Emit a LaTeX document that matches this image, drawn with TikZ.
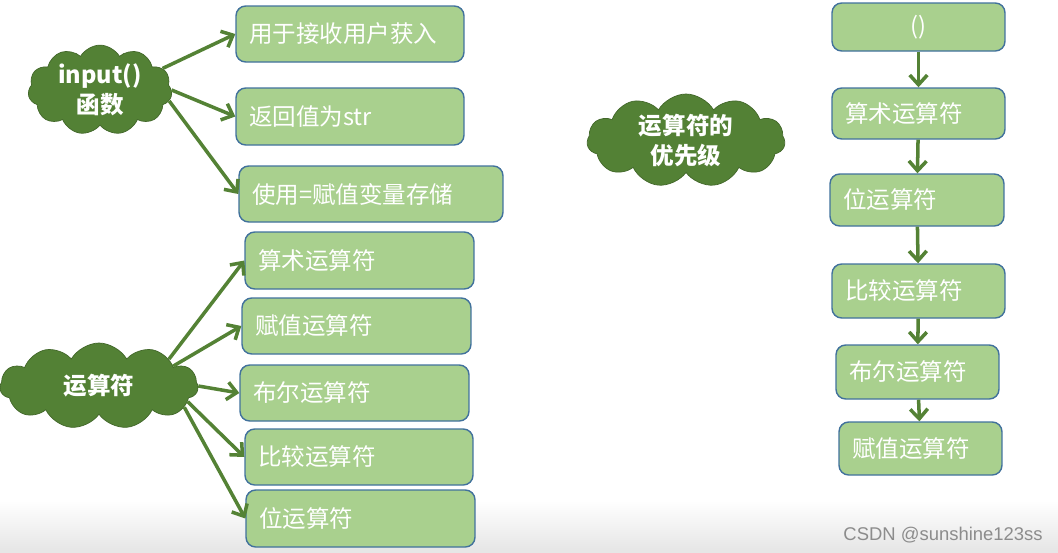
\documentclass[tikz,border=0pt]{standalone}
\usepackage{fontspec}
\usepackage{tikz}
\usetikzlibrary{shapes.symbols,arrows.meta}
\newfontfamily\cjk{Noto Sans CJK SC}
\newfontfamily\wmfont{Liberation Sans}
\definecolor{boxfill}{HTML}{A9D08E}
\definecolor{boxline}{HTML}{41719C}
\definecolor{cloudfill}{HTML}{538135}
\definecolor{arrowgreen}{HTML}{548235}

\begin{document}
\begin{tikzpicture}[x=0.02cm, y=-0.02cm,
	opbox/.style={draw=boxline, line width=0.8pt, fill=boxfill, rounded corners=5.5pt, text=white, align=left, inner xsep=0.26cm, inner ysep=0pt, font=\cjk\fontsize{13.4}{16}\selectfont},
	topic/.style={cloud, cloud puffs=11, cloud puff arc=120, cloud ignores aspect, draw=cloudfill!80!black, fill=cloudfill, text=white, align=center, inner sep=0pt, font=\cjk\bfseries\fontsize{13.4}{17}\selectfont},
	arr/.style={draw=arrowgreen, line width=2pt, -{Straight Barb[length=5.5pt,width=10pt]}}]
	\useasboundingbox (0,0) rectangle (1058,552);
	\shade[top color=white, bottom color=black!10] (0,500) rectangle (1058,552);
	\node[topic, minimum width=2.88cm, minimum height=1.5cm] (in) at (100,90) {input()\\函数};
	\node[opbox, text width=4.04cm, minimum height=1.12cm] (a1) at (350,34) {用于接收用户获入};
	\node[opbox, text width=4.04cm, minimum height=1.14cm] (a2) at (350,116.5) {返回值为str};
	\node[opbox, text width=4.76cm, minimum height=1.12cm] (a3) at (371,194) {使用=赋值变量存储};
	\draw[arr] (in.19) -- (a1.west);
	\draw[arr] (in.0) -- (a2.west);
	\draw[arr] (in.-9) -- (a3.west);
	\node[topic, minimum width=3.96cm, minimum height=1.72cm] (op) at (99,386) {运算符};
	\node[opbox, text width=4.06cm, minimum height=1.14cm] (b1) at (359.5,260.5) {算术运算符};
	\node[opbox, text width=4.06cm, minimum height=1.12cm] (b2) at (356.5,326) {赋值运算符};
	\node[opbox, text width=4.06cm, minimum height=1.12cm] (b3) at (354.5,393) {布尔运算符};
	\node[opbox, text width=4.04cm, minimum height=1.12cm] (b4) at (359,457) {比较运算符};
	\node[opbox, text width=4.06cm, minimum height=1.14cm] (b5) at (360.5,518.5) {位运算符};
	\draw[arr] (op.21) -- (b1.west);
	\draw[arr] (op.15) -- (b2.west);
	\draw[arr] (op.0) -- (b3.west);
	\draw[arr] (op.-10) -- (b4.west);
	\draw[arr] (op.-14) -- (b5.west);
	\node[topic, minimum width=3.96cm, minimum height=1.74cm] (prio) at (686,140.5) {运算符的\\优先级};
	\node[opbox, align=center, text width=2.94cm, minimum height=0.96cm] (c1) at (918.5,27) {()};
	\node[opbox, text width=2.94cm, minimum height=1.02cm] (c2) at (918.5,113.5) {算术运算符};
	\node[opbox, text width=2.96cm, minimum height=1.04cm] (c3) at (917,200) {位运算符};
	\node[opbox, text width=2.94cm, minimum height=1.08cm] (c4) at (918.5,291) {比较运算符};
	\node[opbox, text width=2.74cm, minimum height=1.08cm] (c5) at (917.5,372) {布尔运算符};
	\node[opbox, text width=2.74cm, minimum height=1.06cm] (c6) at (920.5,448.5) {赋值运算符};
	\draw[arr] (c1) -- (c2);
	\draw[arr] (c2) -- (c3);
	\draw[arr] (c3) -- (c4);
	\draw[arr] (c4) -- (c5);
	\draw[arr] (c5) -- (c6);
	\node[text=black!45, font=\wmfont\fontsize{10.5}{12}\selectfont, anchor=east, inner sep=0pt] (wm) at (1043,535) {CSDN @sunshine123ss};
\end{tikzpicture}
\end{document}
